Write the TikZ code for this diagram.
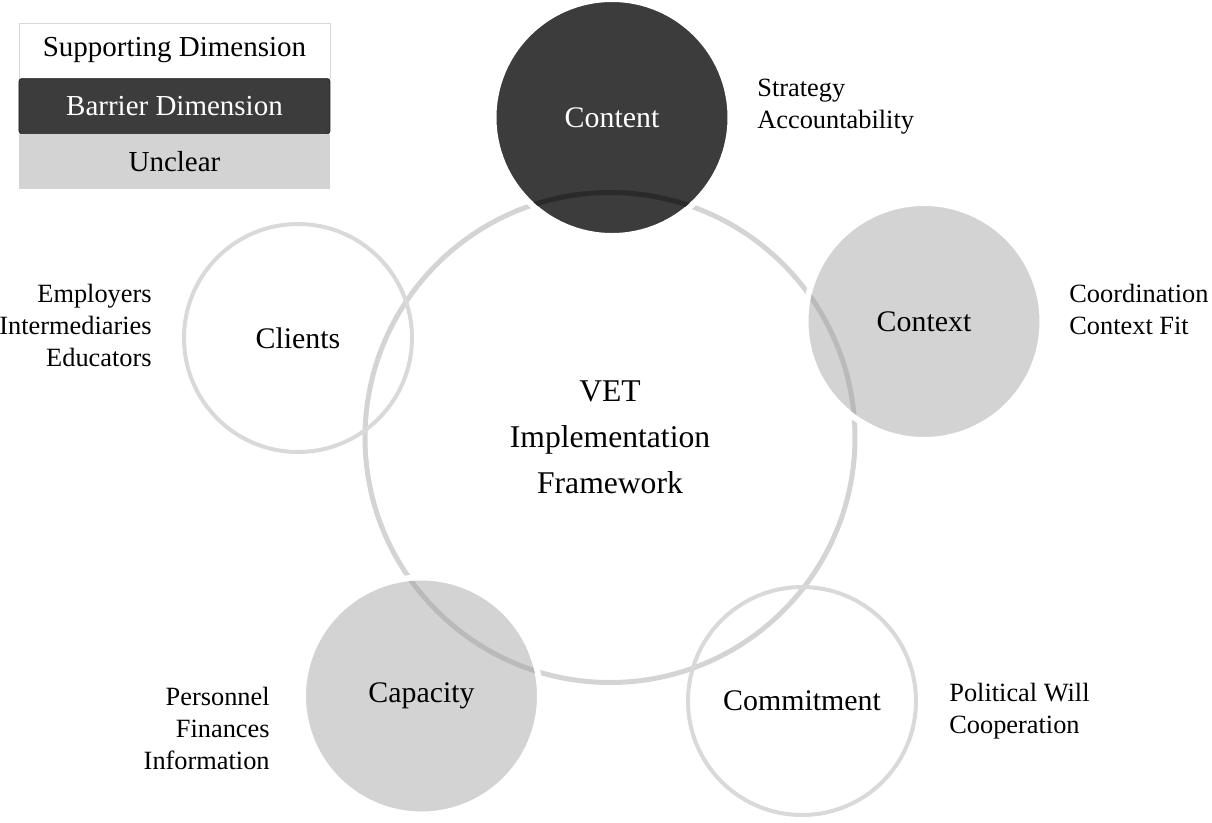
\documentclass[tikz,border=0pt]{standalone}
\usepackage{fontspec}
\setmainfont{Liberation Serif}
\usepackage{tikz}
\usetikzlibrary{positioning}
\usepackage{xcolor}

\definecolor{ringgray}{HTML}{D4D4D4}
\definecolor{outlinegray}{HTML}{D9D9D9}
\definecolor{barrierfill}{HTML}{3C3C3C}
\definecolor{barrierline}{HTML}{1E1E1E}
\definecolor{unclearfill}{HTML}{D3D3D3}
\definecolor{barrierarc}{HTML}{2A2A2A}
\definecolor{unclarc}{HTML}{BABABA}

\tikzset{
    ring/.style={circle, draw=ringgray, line width=0.1cm, minimum size=9.8cm, inner sep=0pt},
    dimcircle/.style={circle, inner sep=0pt, font=\fontsize{17}{20}\selectfont},
    supportdim/.style={dimcircle, draw=outlinegray, line width=0.08cm, minimum size=4.56cm},
    barrierdim/.style={dimcircle, fill=barrierfill, draw=white, line width=0.12cm, minimum size=4.74cm, text=white},
    uncleardim/.style={dimcircle, fill=unclearfill, draw=white, line width=0.12cm, minimum size=4.74cm},
    factorsleft/.style={anchor=west, align=left, inner sep=0pt, font=\fontsize{15}{18.2}\selectfont},
    factorsright/.style={anchor=east, align=right, inner sep=0pt, font=\fontsize{15}{18.2}\selectfont},
    legendrow/.style={minimum width=6.22cm, minimum height=1.1cm, inner sep=0pt, font=\fontsize{16.5}{19}\selectfont}
}

\begin{document}
\begin{tikzpicture}

    \useasboundingbox (-12.2, -7.69) rectangle (12.04, 8.75);

    % Legend
    \node[legendrow, draw=outlinegray, fill=white] (legsupport) at (-8.71, 7.74) {Supporting Dimension};
    \node[legendrow, below=0pt of legsupport, fill=barrierfill, draw=barrierline, rounded corners=1.5pt, text=white] (legbarrier) {Barrier Dimension};
    \node[legendrow, below=0pt of legbarrier, fill=unclearfill] (legunclear) {Unclear};

    % Framework ring
    \node[ring, align=center, font=\fontsize{18}{26.2}\selectfont] (vet) at (0, 0) {VET\\Implementation\\Framework};

    % Dimensions
    \node[supportdim] (clients) at (-6.24, 1.99) {Clients};
    \node[supportdim] (commitment) at (3.84, -5.27) {Commitment};
    \node[barrierdim] (content) at (0.04, 6.40) {Content};
    \node[uncleardim] (context) at (6.28, 2.32) {Context};
    \node[uncleardim] (capacity) at (-3.77, -5.17) {Capacity};

    % Ring seen through the filled dimensions
    \begin{scope}
        \clip (content.center) circle (2.31);
        \draw[draw=barrierarc, line width=0.1cm] (vet.center) circle (4.9);
    \end{scope}
    \begin{scope}
        \clip (context.center) circle (2.31);
        \draw[draw=unclarc, line width=0.1cm] (vet.center) circle (4.9);
    \end{scope}
    \begin{scope}
        \clip (capacity.center) circle (2.31);
        \draw[draw=unclarc, line width=0.1cm] (vet.center) circle (4.9);
    \end{scope}

    % Factors of each dimension
    \node[factorsleft] (contentfac) at (2.94, 6.62) {Strategy\\Accountability};
    \node[factorsleft] (contextfac) at (9.18, 2.56) {Coordination\\Context Fit};
    \node[factorsright] (clientsfac) at (-9.16, 2.24) {Employers\\Intermediaries\\Educators};
    \node[factorsright] (capacityfac) at (-6.8, -5.82) {Personnel\\Finances\\Information};
    \node[factorsleft] (commitmentfac) at (6.78, -5.48) {Political Will\\Cooperation};

\end{tikzpicture}
\end{document}
